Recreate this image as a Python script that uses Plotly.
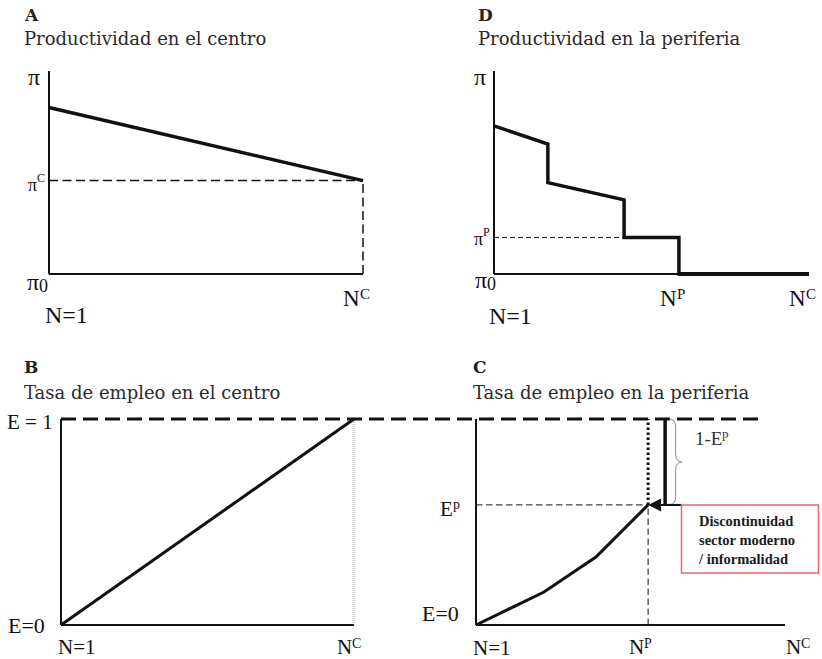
import plotly.graph_objects as go

W, H = 822, 659

# ---------------- DATA ----------------
# Panel A: productivity in the centre (N from 1 to N^C, scaled 0..1)
a_n = [0, 1]
a_pi = [0.82, 0.46]
a_pi_c = 0.46

# Panel D: productivity in the periphery (step-wise)
d_n = [0, 0.171, 0.171, 0.413, 0.413, 0.587, 0.587, 1.0]
d_pi = [0.73, 0.64, 0.45, 0.365, 0.18, 0.18, 0.0, 0.0]
d_pi_p = 0.18
d_n_p = 0.587

# Panel B: employment rate in the centre
b_n = [0, 1]
b_e = [0, 1]
b_full_emp_end = 2.4  # E = 1 line runs on into panel C (B units)

# Panel C: employment rate in the periphery
c_n = [0, 0.22, 0.388, 0.557]
c_e = [0, 0.16, 0.33, 0.583]
c_e_p = 0.583
c_n_p = 0.557
c_gap_n = 0.612      # thick bar showing 1 - E^p
c_arrow_tail = 0.665
c_brace_n = 0.625
c_gap_label_n = 0.796
c_gap_label_e = 0.905

titles = [("A", "Productividad en el centro"),
          ("D", "Productividad en la periferia"),
          ("B", "Tasa de empleo en el centro"),
          ("C", "Tasa de empleo en la periferia")]
box_text = "Discontinuidad<br>sector moderno<br>/ informalidad"

# ---------------- LAYOUT HELPERS ----------------
SERIF = "Liberation Serif"
TITLE_FONT = "DejaVu Serif"
INK = "#111111"


def place(px0, px1, py0, py1, rx=(0, 1), ry=(0, 1), pad=10, pad_r=None):
    pad_r = pad if pad_r is None else pad_r
    sx = (rx[1] - rx[0]) / (px1 - px0)
    sy = (ry[1] - ry[0]) / (py0 - py1)
    xa = dict(domain=[(px0 - pad) / W, min(1, (px1 + pad_r) / W)],
              range=[rx[0] - pad * sx, rx[1] + pad_r * sx],
              visible=False, fixedrange=True)
    ya = dict(domain=[1 - (py0 + pad) / H, 1 - (py1 - pad) / H],
              range=[ry[0] - pad * sy, ry[1] + pad * sy],
              visible=False, fixedrange=True)
    return xa, ya


fig = go.Figure()

axA = place(49, 363, 274, 71)
axD = place(494, 809, 274, 71)
axB = place(61, 61 + 293 * b_full_emp_end, 625, 419, rx=(0, b_full_emp_end))
axC = place(476, 785, 625, 419, pad_r=37)

layout_axes = {}
for i, (xa, ya) in enumerate([axA, axD, axB, axC], start=1):
    sfx = "" if i == 1 else str(i)
    xa["anchor"] = "y" + sfx
    ya["anchor"] = "x" + sfx
    layout_axes["xaxis" + sfx] = xa
    layout_axes["yaxis" + sfx] = ya

REF = {"A": ("x", "y"), "D": ("x2", "y2"), "B": ("x3", "y3"), "C": ("x4", "y4")}


def line(panel, xs, ys, width=2, dash="solid", color=INK):
    xr, yr = REF[panel]
    fig.add_trace(go.Scatter(x=xs, y=ys, xaxis=xr, yaxis=yr, mode="lines",
                             line=dict(color=color, width=width, dash=dash),
                             hoverinfo="skip", showlegend=False))


annotations = []


def lab(panel, text, x, y, xshift=0, yshift=0, size=22, xanchor="center",
        color=INK):
    xr, yr = REF[panel]
    annotations.append(dict(text=text, x=x, y=y, xref=xr, yref=yr, xshift=xshift,
                            yshift=yshift, showarrow=False, xanchor=xanchor,
                            yanchor="middle", borderpad=0, borderwidth=0,
                            font=dict(family=SERIF, size=size, color=color)))


def lab2(panel, base, small, x, y, join, dy, size, small_size, small_dy, color=INK):
    """base text ending at `join` px, then a smaller super/subscript starting there."""
    lab(panel, base, x, y, xshift=join, yshift=dy, size=size, xanchor="right", color=color)
    lab(panel, small, x, y, xshift=join, yshift=dy + small_dy, size=small_size,
        xanchor="left", color=color)


# ---------------- PANEL A ----------------
line("A", [0, 0], [0, 1], width=2)
line("A", [0, 1], [0, 0], width=2)
line("A", [0, a_n[-1]], [a_pi_c, a_pi_c], width=1.5, dash="9px,4.5px")
line("A", [a_n[-1], a_n[-1]], [0, a_pi_c], width=1.5, dash="9px,4.5px")
line("A", a_n, a_pi, width=3.5)
lab("A", "π", 0, 1, xshift=-9, yshift=-6, size=24, xanchor="right")
lab2("A", "π", "C", 0, a_pi_c, join=-12, dy=-4, size=18, small_size=12, small_dy=7)
lab2("A", "π", "0", 0, 0, join=-10, dy=-8, size=24, small_size=18, small_dy=-4)
lab("A", "N=1", 0, 0, xshift=17, yshift=-41, size=24)
lab2("A", "N", "C", 1, 0, join=-3, dy=-24, size=23, small_size=15, small_dy=4)

# ---------------- PANEL D ----------------
line("D", [0, 0], [0, 1], width=2)
line("D", [0, 1], [0, 0], width=2)
line("D", [0, d_n_p], [d_pi_p, d_pi_p], width=1, dash="5px,3px")
line("D", d_n, d_pi, width=3.5)
line("D", [d_n_p, 1], [0, 0], width=4)
lab("D", "π", 0, 1, xshift=-8, yshift=-6, size=24, xanchor="right")
lab2("D", "π", "P", 0, d_pi_p, join=-11, dy=-2, size=18, small_size=12, small_dy=7)
lab2("D", "π", "0", 0, 0, join=-7, dy=-6, size=24, small_size=18, small_dy=-4)
lab("D", "N=1", 0, 0, xshift=17, yshift=-42, size=24)
lab2("D", "N", "P", d_n_p, 0, join=-2, dy=-24, size=23, small_size=15, small_dy=4)
lab2("D", "N", "C", 1, 0, join=-3, dy=-24, size=23, small_size=15, small_dy=4)

# ---------------- PANEL B ----------------
line("B", [0, 0], [0, 1], width=2)
line("B", [0, 1], [0, 0], width=2)
line("B", [1, 1], [0, 1], width=1, dash="1px,1px", color="#9a9a9a")
line("B", [0, b_full_emp_end], [1, 1], width=3, dash="15px,7px")
line("B", b_n, b_e, width=3)
lab("B", "E = 1", 0, 1, xshift=-8, yshift=-3, size=21, xanchor="right")
lab("B", "E=0", 0, 0, xshift=-16, yshift=0, size=22, xanchor="right")
lab("B", "N=1", 0, 0, xshift=16, yshift=-22, size=21)
lab2("B", "N", "C", 1, 0, join=-2, dy=-22, size=21, small_size=14, small_dy=4)

# ---------------- PANEL C ----------------
line("C", [0, 0], [0, 1], width=2)
line("C", [0, 1], [0, 0], width=2)
line("C", [0, c_n_p], [c_e_p, c_e_p], width=1, dash="6.5px,3.5px")
line("C", [c_n_p, c_n_p], [0, c_e_p], width=1, dash="6.5px,3.5px")
line("C", [c_n_p, c_n_p], [c_e_p, 1], width=3, dash="2.5px,2.5px")
line("C", [c_gap_n, c_gap_n], [c_e_p, 1], width=3.5)
line("C", [c_gap_n, c_arrow_tail], [c_e_p, c_e_p], width=2)
line("C", c_n, c_e, width=3)

# brace spanning 1 - E^p
bx0 = c_brace_n
bw = 0.042
bxm = bx0 + bw / 2
yt, yb = 1.0, c_e_p
ym = (yt + yb) / 2
dd = 0.04
brace_path = (f"M {bx0},{yt} Q {bxm},{yt} {bxm},{yt - dd} L {bxm},{ym + dd} "
              f"Q {bxm},{ym} {bx0 + bw},{ym} Q {bxm},{ym} {bxm},{ym - dd} "
              f"L {bxm},{yb + dd} Q {bxm},{yb} {bx0},{yb}")
shapes = [dict(type="path", path=brace_path, xref="x4", yref="y4",
               line=dict(color="#8a8a8a", width=1))]

# red callout box
shapes.append(dict(type="rect", xref="x4", yref="y4", xsizemode="pixel", ysizemode="pixel",
                   xanchor=c_arrow_tail, yanchor=c_e_p, x0=0, x1=137, y0=0, y1=-68,
                   line=dict(color="#e46a6a", width=1.5), fillcolor="rgba(0,0,0,0)"))
# red spell-check underline under E^p
shapes.append(dict(type="line", xref="x4", yref="y4", xsizemode="pixel", ysizemode="pixel",
                   xanchor=0, yanchor=c_e_p, x0=-38, x1=-17, y0=-16, y1=-16,
                   line=dict(color="#e03030", width=1.5, dash="1.5px,1px")))

annotations.append(dict(text=box_text, x=c_arrow_tail, y=c_e_p, xref="x4", yref="y4",
                        xshift=15, yshift=-35, xanchor="left", yanchor="middle",
                        align="left", showarrow=False,
                        font=dict(family=SERIF, size=14.5, color="#1a1a1a", weight="bold")))
# arrow towards the discontinuity
annotations.append(dict(text="", x=c_n_p, y=c_e_p, ax=c_arrow_tail, ay=c_e_p,
                        xref="x4", yref="y4", axref="x4", ayref="y4", showarrow=True,
                        arrowhead=2, arrowsize=1.3, arrowwidth=2, arrowcolor=INK, standoff=0))

lab2("C", "1-E", "p", c_gap_label_n, c_gap_label_e, join=0, dy=0, size=19,
     small_size=13, small_dy=5, color="#333333")
lab2("C", "E", "p", 0, c_e_p, join=-23, dy=-4, size=21, small_size=14, small_dy=4)
lab("C", "E=0", 0, 0, xshift=-17, yshift=12, size=22, xanchor="right")
lab("C", "N=1", 0, 0, xshift=16, yshift=-23, size=21)
lab2("C", "N", "P", c_n_p, 0, join=-4, dy=-22, size=21, small_size=14, small_dy=4)
lab2("C", "N", "C", 1, 0, join=16, dy=-22, size=21, small_size=14, small_dy=4)

# ---------------- TITLES ----------------
title_pos = [(22, 15, 38), (476, 15, 38), (22, 367, 392), (471, 367, 392)]
for (letter, sub), (px, py_l, py_s) in zip(titles, title_pos):
    annotations.append(dict(text=letter, x=px / W, y=1 - py_l / H, xref="paper",
                            yref="paper", xanchor="left", yanchor="middle", showarrow=False,
                            font=dict(family=TITLE_FONT, size=17, color="#222222",
                                      weight="bold")))
    annotations.append(dict(text=sub, x=px / W, y=1 - py_s / H, xref="paper",
                            yref="paper", xanchor="left", yanchor="middle", showarrow=False,
                            font=dict(family=TITLE_FONT, size=18, color="#2a2a2a")))

fig.update_layout(width=W, height=H, margin=dict(l=0, r=0, t=0, b=0),
                  paper_bgcolor="white", plot_bgcolor="rgba(0,0,0,0)",
                  showlegend=False, annotations=annotations, shapes=shapes,
                  **layout_axes)

fig.write_html("out.html", config={"displayModeBar": False},
               post_script="document.body.style.margin='0';")
